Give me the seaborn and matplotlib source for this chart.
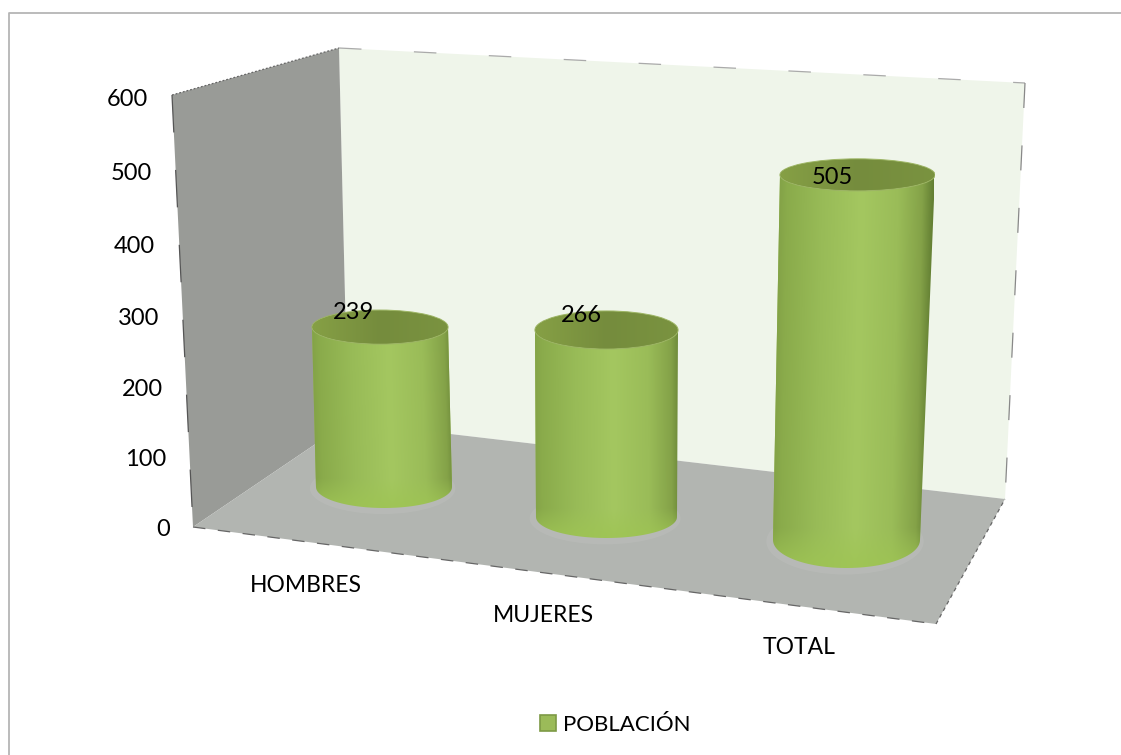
"""Population by sex: 3D-looking cylinder chart drawn with seaborn bars."""
import numpy as np
import matplotlib
matplotlib.use('Agg')
import matplotlib.pyplot as plt
import seaborn as sns
from matplotlib.colors import LinearSegmentedColormap
from matplotlib.patches import Ellipse, Patch, Polygon
from matplotlib.transforms import Affine2D

# data
categories = ['HOMBRES', 'MUJERES', 'TOTAL']
values = [239, 266, 505]
y_ticks = [0, 100, 200, 300, 400, 500, 600]
series_name = 'POBLACIÓN'

W, H = 1121, 755
FONT = 17

# perspective of each column, in pixels: base left/right, top left/right,
# y of the base centre, px per unit, ellipse half heights (top, base)
columns = [
    dict(bl=316, br=452, tl=312, tr=448, base=487, scale=0.669, ry_t=17, ry_b=21),
    dict(bl=536, br=677, tl=535, tr=678, base=517, scale=0.703, ry_t=19, ry_b=21),
    dict(bl=773, br=920, tl=780, tr=935, base=540, scale=0.723, ry_t=16, ry_b=28),
]
label_pos = [(306, 585), (543, 616), (799, 647)]
value_pos = [(354, 313), (581, 316), (832, 177)]

side_cmap = LinearSegmentedColormap.from_list('side', [
    (0.0, '#7f9d45'), (0.08, '#8aab4b'), (0.30, '#98bb57'), (0.55, '#a4c760'),
    (0.78, '#9abc58'), (0.93, '#84a248'), (1.0, '#637f33')])
top_cmap = LinearSegmentedColormap.from_list('top', [
    (0.0, '#86a045'), (0.5, '#758c3d'), (1.0, '#7a9340')])


def persp(v):
    # value axis gets compressed towards the viewer side of the wall
    return 0.6847 * v + 5.33e-5 * v ** 2


def persp_inv(p):
    b, a = 5.33e-5, 0.6847
    return (-a + np.sqrt(np.maximum(a ** 2 + 4 * b * p, 0))) / (2 * b)


def main():
    sns.set_theme(style='white')
    plt.rcParams['font.family'] = ['Lato', 'DejaVu Sans']

    fig = plt.figure(figsize=(W / 100, H / 100), dpi=100, facecolor='white')

    # pixel sized backdrop: walls, floor, frame, texts
    bg = fig.add_axes([0, 0, 1, 1])
    bg.set_xlim(0, W)
    bg.set_ylim(H, 0)
    bg.set_axis_off()

    bg.add_patch(Polygon([(339, 48), (1025, 83), (1005, 499), (348, 422)],
                         fc='#eff5ea', ec='none'))
    bg.add_patch(Polygon([(172, 95), (339, 48), (348, 422), (193, 527)],
                         fc='#999b97', ec='none'))
    bg.add_patch(Polygon([(193, 527), (348, 422), (1005, 499), (936, 624)],
                         fc='#b2b5b1', ec='none'))

    edges = [
        ((172, 339), (95, 48), '#666666', (1.5, 1.5)),
        ((172, 193), (95, 527), '#555555', (30, 30)),
        ((193, 936), (527, 624), '#666666', (10, 10)),
        ((936, 1005), (624, 499), '#666666', (3, 3)),
        ((339, 1025), (48, 83), '#aaaaaa', (18, 42)),
        ((1025, 1005), (83, 499), '#888888', (20, 30)),
    ]
    for xs, ys, col, dash in edges:
        bg.plot(xs, ys, color=col, lw=0.9, dashes=dash)

    # frame of the chart area, only top and left are visible
    bg.plot([9, 9, W], [H, 13, 13], color='#b5b5b5', lw=1.3)

    for cat, (x, y) in zip(categories, label_pos):
        bg.text(x, y, cat, ha='center', va='center', fontsize=16.5, color='#000000')

    handle = Patch(facecolor='#9bbb59', edgecolor='#7d9a45', lw=1.2)
    bg.legend([handle], [series_name], loc='center', bbox_to_anchor=(615.5, 725),
              bbox_transform=bg.transData, frameon=False, fontsize=16,
              handlelength=0.7, handleheight=0.7, handletextpad=0.32,
              labelcolor='#000000')

    # value axis
    ax_y = fig.add_axes([172 / W, 1 - 527 / H, 100 / W, 430 / H])
    ax_y.patch.set_alpha(0)
    ax_y.set_yscale('function', functions=(persp, persp_inv))
    ax_y.set_ylim(0, 600)
    ax_y.set_xticks([])
    ax_y.set_yticks(y_ticks, [str(t) for t in y_ticks])
    ax_y.minorticks_off()
    ax_y.tick_params(axis='y', length=0, pad=0, labelsize=FONT, labelcolor='#000000')
    sns.despine(ax=ax_y, left=True, bottom=True)
    tick_right = [170, 166, 163, 159, 155, 152, 148]
    for lab, px in zip(ax_y.get_yticklabels(), tick_right):
        lab.set_x((px - 172) / 100)

    # one axes per column, each with its own depth scale
    low = -60
    for i, (cat, val, c) in enumerate(zip(categories, values, columns)):
        bw = c['br'] - c['bl']
        margin = 0.6
        cx = (c['bl'] + c['br']) / 2
        left = cx - margin * bw
        bottom = c['base'] - low * c['scale']
        height = (600 - low) * c['scale']
        ax = fig.add_axes([left / W, 1 - bottom / H, 2 * margin * bw / W, height / H])

        sns.barplot(x=[cat], y=[val], ax=ax, width=1.0, color='#9bbb59', saturation=1,
                    edgecolor='none', linewidth=0)
        ax.set_xlim(-margin, margin)
        ax.set_ylim(low, 600)
        ax.set_axis_off()

        bar = ax.patches[0]
        x0, w, top = bar.get_x(), bar.get_width(), bar.get_height()
        tx0 = x0 + (c['tl'] - c['bl']) / bw
        tx1 = x0 + w + (c['tr'] - c['br']) / bw
        shear = Affine2D.from_values(1, 0, (tx0 - x0) / top, 1, 0, 0)
        bar.set_transform(shear + ax.transData)

        ry_b = c['ry_b'] / c['scale']
        ry_t = c['ry_t'] / c['scale']

        # lighter halo of the floor round the base
        ax.add_patch(Ellipse((-0.01, -2), w * 1.07, 2 * ry_b + 14, fc='#bcbebb', ec='none',
                             alpha=0.55, zorder=0.5))

        # body outline: lower half of the base ellipse, then up the sides
        t = np.linspace(np.pi, 2 * np.pi, 60)
        outline = np.column_stack([x0 + w / 2 + w / 2 * np.cos(t), ry_b * np.sin(t)])
        outline = np.vstack([outline, [tx1, top], [tx0, top]])
        body = Polygon(outline, closed=True, transform=ax.transData, fc='none', ec='none')
        ax.add_patch(body)

        # shading, brighter rim towards the foot of the column
        u = np.linspace(0, 1, 256)
        rows = np.linspace(0, 1, 200)[:, None, None]
        rgb = side_cmap(u)[:, :3][None, :, :]
        rim = np.array([0.62, 0.77, 0.33])[None, None, :]
        foot = np.clip((rows * (top + ry_b) - ry_b * 0.2) / (ry_b * 1.2), 0, 1)
        mix = (1 - foot) * 0.75
        shade = rgb * (1 - mix) + rim * mix
        im = ax.imshow(shade, extent=[x0 - 0.04, x0 + w + 0.04, -ry_b, top], origin='lower',
                       aspect='auto', interpolation='bilinear', zorder=3)
        im.set_transform(shear + ax.transData)
        im.set_clip_path(body)

        # lid
        lid = Ellipse(((tx0 + tx1) / 2, top), tx1 - tx0, 2 * ry_t, fc='#7a9340',
                      ec='#9db565', lw=0.8, zorder=4)
        ax.add_patch(lid)
        im2 = ax.imshow(top_cmap(u)[None, :, :3],
                        extent=[tx0, tx1, top - ry_t, top + ry_t], aspect='auto', zorder=4.5)
        im2.set_clip_path(Ellipse(((tx0 + tx1) / 2, top), tx1 - tx0 - 0.01, 2 * ry_t - 2,
                                  transform=ax.transData))
        ax.set_xlim(-margin, margin)
        ax.set_ylim(low, 600)

        # value label
        px, py = value_pos[i]
        dx = px - ((c['tl'] + c['tr']) / 2)
        dy = (c['base'] - val * c['scale']) - py
        ax.annotate(str(val), ((tx0 + tx1) / 2, val), xytext=(dx * 0.72, dy * 0.72),
                    textcoords='offset points', ha='center', va='center',
                    fontsize=FONT, color='#000000', zorder=6)

    fig.savefig('out.png', dpi=100)


if __name__ == '__main__':
    main()
